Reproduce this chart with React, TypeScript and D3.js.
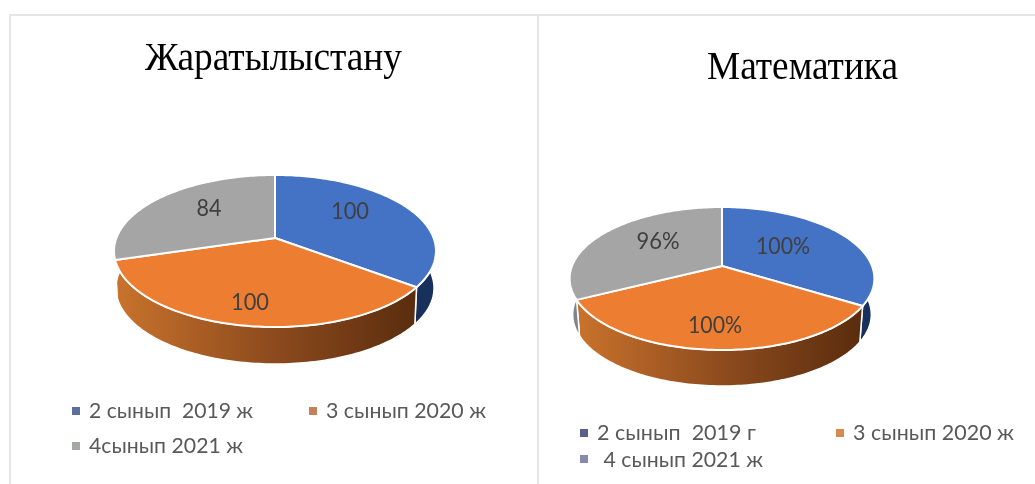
import React from "react";
import * as d3 from "d3";

const W = 1035;
const H = 484;

const titleLeft = "Жаратылыстану";
const titleRight = "Математика";

const leftValues = [100, 100, 84];
const rightValues = [100, 100, 96];
const leftLabels = ["100", "100", "84"];
const rightLabels = ["100%", "100%", "96%"];

const leftLegend = ["2 сынып  2019 ж", "3 сынып 2020 ж", "4сынып 2021 ж"];
const rightLegend = ["2 сынып  2019 г", "3 сынып 2020 ж", " 4 сынып 2021 ж"];

const topColors = ["#4472C4", "#ED7D31", "#A5A5A5"];
const leftWallFills = ["#17305c", "url(#GRAD)", "#ffffff"];
const rightWallFills = ["#17305c", "url(#GRAD)", "#7d8490"];
const leftMarkers = ["#5a6f9f", "#c4805a", "#a4a7a2"];
const rightMarkers = ["#5a6288", "#d68a4e", "#8589ab"];

type Geo = {
  x0: number; y0: number; A: number; B: number; k: number;
  depth: number; shrink: number; idPrefix: string;
  gradX0: number; gradX1: number;
  labelPos: [number, number][];
  labelWidth: number[];
  wallFills: string[];
};

const geoLeft: Geo = {
  x0: 275, y0: 238, A: 73.8, B: 158.6, k: 0.171, depth: 37, shrink: 0.012,
  idPrefix: "l", gradX0: 118, gradX1: 416,
  labelPos: [[350, 211], [250, 302], [209, 208]], labelWidth: [38, 38, 25],
  wallFills: leftWallFills,
};
const geoRight: Geo = {
  x0: 722, y0: 266, A: 69.3, B: 150, k: 0.175, depth: 36, shrink: 0.02,
  idPrefix: "r", gradX0: 579, gradX1: 860,
  labelPos: [[783, 246], [715, 325], [658, 241]], labelWidth: [54, 54, 43],
  wallFills: rightWallFills,
};

function project(g: Geo, theta: number, wall: boolean): [number, number] {
  const u = Math.sin(theta);
  const v = -Math.cos(theta);
  const d = 1 - g.k * v;
  const sx = wall ? 1 - g.shrink : 1;
  return [
    g.x0 + (g.B * u * sx) / d,
    g.y0 + (g.A * v) / d + (wall ? g.depth : 0),
  ];
}

const lineGen = d3.line<[number, number]>().x((p) => p[0]).y((p) => p[1]);

function Pie3D({ g, values, labels }: { g: Geo; values: number[]; labels: string[] }) {
  const arcs = d3.pie<number>().sort(null).startAngle(0).endAngle(2 * Math.PI)(values);
  const sample = (a: number, b: number) => {
    const n = Math.max(2, Math.ceil((b - a) / 0.02));
    return d3.range(n + 1).map((i) => a + ((b - a) * i) / n);
  };
  const gradId = `${g.idPrefix}-orange`;
  return (
    <g>
      <defs>
        <linearGradient id={gradId} gradientUnits="userSpaceOnUse" x1={g.gradX0} x2={g.gradX1} y1={0} y2={0}>
          <stop offset="0" stopColor="#c8722c" />
          <stop offset="0.5" stopColor="#8f4c1e" />
          <stop offset="1" stopColor="#5a2d0e" />
        </linearGradient>
      </defs>
      {arcs.map((a, i) => {
        const ts = sample(a.startAngle, a.endAngle);
        const top = ts.map((t) => project(g, t, false));
        const bottom = ts.map((t) => project(g, t, true)).reverse();
        return (
          <path
            key={`w${i}`}
            d={lineGen([...top, ...bottom])! + "Z"}
            fill={g.wallFills[i] === "url(#GRAD)" ? `url(#${gradId})` : g.wallFills[i]}
            stroke="#ffffff"
            strokeWidth={1.5}
            strokeLinejoin="round"
          />
        );
      })}
      {arcs.map((a, i) => {
        const rim = sample(a.startAngle, a.endAngle).map((t) => project(g, t, false));
        const pts: [number, number][] = [[g.x0, g.y0], ...rim];
        return (
          <path
            key={`t${i}`}
            d={lineGen(pts)! + "Z"}
            fill={topColors[i]}
            stroke="#ffffff"
            strokeWidth={2}
            strokeLinejoin="round"
          />
        );
      })}
      {labels.map((l, i) => (
        <text
          key={`d${i}`}
          x={g.labelPos[i][0] - g.labelWidth[i] / 2}
          y={g.labelPos[i][1] + 8}
          fontFamily="Lato, 'Open Sans', sans-serif"
          fontSize={23}
          fill="#404040"
          textLength={g.labelWidth[i]}
          lengthAdjust="spacingAndGlyphs"
        >
          {l}
        </text>
      ))}
    </g>
  );
}

function LegendItem({ mx, my, color, tx, tw, by, text }: { mx: number; my: number; color: string; tx: number; tw: number; by: number; text: string }) {
  return (
    <g>
      <rect x={mx} y={my - 4} width={8} height={8} fill={color} />
      <text
        x={tx}
        y={by}
        fontFamily="Lato, 'Open Sans', sans-serif"
        fontSize={21.5}
        fill="#595959"
        textLength={tw}
        lengthAdjust="spacingAndGlyphs"
        xmlSpace="preserve"
      >
        {text}
      </text>
    </g>
  );
}

export default function App() {
  return (
    <svg
      width={W}
      height={H}
      viewBox={`0 0 ${W} ${H}`}
      style={{ position: "absolute", left: 0, top: 0, background: "#ffffff", filter: "blur(0.4px)" }}
    >
      <g stroke="#e6e6e6" strokeWidth={2} fill="none">
        <line x1={9} x2={W} y1={15} y2={15} />
        <line x1={10} x2={10} y1={15} y2={H} />
        <line x1={538} x2={538} y1={15} y2={H} />
      </g>
      <g fontFamily="'Liberation Serif', 'Times New Roman', serif" fontSize={40} fill="#000000">
        <text x={145} y={70} textLength={257} lengthAdjust="spacingAndGlyphs">{titleLeft}</text>
        <text x={707} y={79} textLength={191} lengthAdjust="spacingAndGlyphs">{titleRight}</text>
      </g>
      <Pie3D g={geoLeft} values={leftValues} labels={leftLabels} />
      <Pie3D g={geoRight} values={rightValues} labels={rightLabels} />
      <LegendItem mx={72} my={411} color={leftMarkers[0]} tx={89} tw={164} by={418} text={leftLegend[0]} />
      <LegendItem mx={309} my={411} color={leftMarkers[1]} tx={326} tw={160} by={418} text={leftLegend[1]} />
      <LegendItem mx={72} my={446} color={leftMarkers[2]} tx={89} tw={154} by={453} text={leftLegend[2]} />
      <LegendItem mx={580} my={433} color={rightMarkers[0]} tx={597} tw={159} by={440} text={rightLegend[0]} />
      <LegendItem mx={836} my={433} color={rightMarkers[1]} tx={853} tw={161} by={440} text={rightLegend[1]} />
      <LegendItem mx={580} my={459} color={rightMarkers[2]} tx={598} tw={165} by={467} text={rightLegend[2]} />
    </svg>
  );
}
